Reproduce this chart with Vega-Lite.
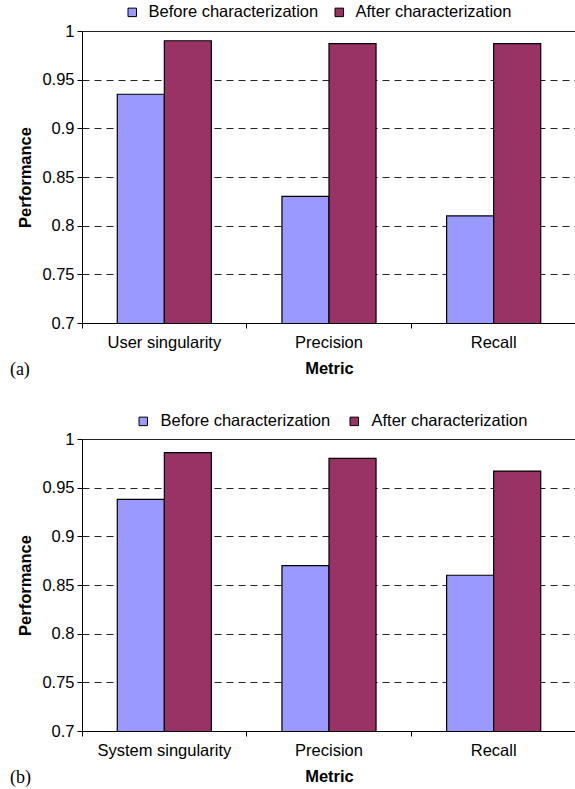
{
  "$schema": "https://vega.github.io/schema/vega-lite/v6.json",
  "padding": {"left": 9, "top": 4, "right": 0, "bottom": 0},
  "background": "white",
  "config": {
    "font": "Liberation Sans",
    "view": {"stroke": null},
    "axis": {
      "labelFont": "Liberation Sans",
      "titleFont": "Liberation Sans",
      "labelFontSize": 16.5,
      "titleFontSize": 16.5,
      "titleFontWeight": "bold",
      "labelColor": "#000",
      "titleColor": "#000",
      "domainColor": "#000",
      "tickColor": "#000",
      "tickSize": 5
    },
    "legend": {"labelFont": "Liberation Sans", "labelFontSize": 16.5, "labelColor": "#000", "labelLimit": 0}
  },
  "datasets": {
    "a": [
      {"metric": "User singularity", "phase": "Before characterization", "value": 0.935},
      {"metric": "User singularity", "phase": "After characterization", "value": 0.99},
      {"metric": "Precision", "phase": "Before characterization", "value": 0.83},
      {"metric": "Precision", "phase": "After characterization", "value": 0.987},
      {"metric": "Recall", "phase": "Before characterization", "value": 0.81},
      {"metric": "Recall", "phase": "After characterization", "value": 0.987}
    ],
    "b": [
      {"metric": "System singularity", "phase": "Before characterization", "value": 0.938},
      {"metric": "System singularity", "phase": "After characterization", "value": 0.986},
      {"metric": "Precision", "phase": "Before characterization", "value": 0.87},
      {"metric": "Precision", "phase": "After characterization", "value": 0.98},
      {"metric": "Recall", "phase": "Before characterization", "value": 0.86},
      {"metric": "Recall", "phase": "After characterization", "value": 0.967}
    ]
  },
  "spacing": 34,
  "vconcat": [
    {
      "width": 494,
      "height": 292,
      "data": {"name": "a"},
      "title": {"text": "(a)", "orient": "bottom", "anchor": "start", "frame": "bounds", "font": "Liberation Serif", "fontSize": 18, "fontWeight": "normal", "color": "#000", "dx": -8, "offset": -16},
      "mark": {"type": "bar", "stroke": "#000", "strokeWidth": 1.2, "clip": true},
      "encoding": {
        "x": {"field": "metric", "type": "nominal", "sort": ["User singularity", "Precision", "Recall"],
          "scale": {"paddingInner": 0, "paddingOuter": 0},
          "axis": {"title": "Metric", "labelAngle": 0, "bandPosition": 0, "labelPadding": 6, "titlePadding": 10, "grid": false}},
        "xOffset": {"field": "phase", "type": "nominal", "sort": ["Before characterization", "After characterization"],
          "scale": {"paddingInner": 0, "paddingOuter": 0.75}},
        "y": {"field": "value", "type": "quantitative", "scale": {"domain": [0.7, 1], "zero": false, "nice": false},
          "axis": {"title": "Performance", "values": [0.7, 0.75, 0.8, 0.85, 0.9, 0.95, 1], "format": ".2~f", "grid": true,
            "gridColor": "#222", "gridDash": {"condition": {"test": "datum.value === 1", "value": []}, "value": [7, 5]}, "gridWidth": 1.2, "labelPadding": 3, "titlePadding": 8}},
        "color": {"field": "phase", "type": "nominal", "sort": ["Before characterization", "After characterization"],
          "scale": {"range": ["#9999FF", "#993366"]},
          "legend": {"orient": "none", "legendX": 42, "legendY": -27, "title": null, "direction": "horizontal", "symbolType": "square", "symbolSize": 72, "symbolStrokeColor": "#000", "symbolStrokeWidth": 1, "columnPadding": 12, "labelOffset": 8}}
      }
    },
    {
      "width": 494,
      "height": 292,
      "data": {"name": "b"},
      "title": {"text": "(b)", "orient": "bottom", "anchor": "start", "frame": "bounds", "font": "Liberation Serif", "fontSize": 18, "fontWeight": "normal", "color": "#000", "dx": -8, "offset": -16},
      "mark": {"type": "bar", "stroke": "#000", "strokeWidth": 1.2, "clip": true},
      "encoding": {
        "x": {"field": "metric", "type": "nominal", "sort": ["System singularity", "Precision", "Recall"],
          "scale": {"paddingInner": 0, "paddingOuter": 0},
          "axis": {"title": "Metric", "labelAngle": 0, "bandPosition": 0, "labelPadding": 6, "titlePadding": 10, "grid": false}},
        "xOffset": {"field": "phase", "type": "nominal", "sort": ["Before characterization", "After characterization"],
          "scale": {"paddingInner": 0, "paddingOuter": 0.75}},
        "y": {"field": "value", "type": "quantitative", "scale": {"domain": [0.7, 1], "zero": false, "nice": false},
          "axis": {"title": "Performance", "values": [0.7, 0.75, 0.8, 0.85, 0.9, 0.95, 1], "format": ".2~f", "grid": true,
            "gridColor": "#222", "gridDash": {"condition": {"test": "datum.value === 1", "value": []}, "value": [7, 5]}, "gridWidth": 1.2, "labelPadding": 3, "titlePadding": 8}},
        "color": {"field": "phase", "type": "nominal", "sort": ["Before characterization", "After characterization"],
          "scale": {"range": ["#9999FF", "#993366"]},
          "legend": {"orient": "none", "legendX": 53, "legendY": -26, "title": null, "direction": "horizontal", "symbolType": "square", "symbolSize": 72, "symbolStrokeColor": "#000", "symbolStrokeWidth": 1, "columnPadding": 15, "labelOffset": 9}}
      }
    }
  ],
  "resolve": {"scale": {"color": "independent"}, "legend": {"color": "independent"}}
}
